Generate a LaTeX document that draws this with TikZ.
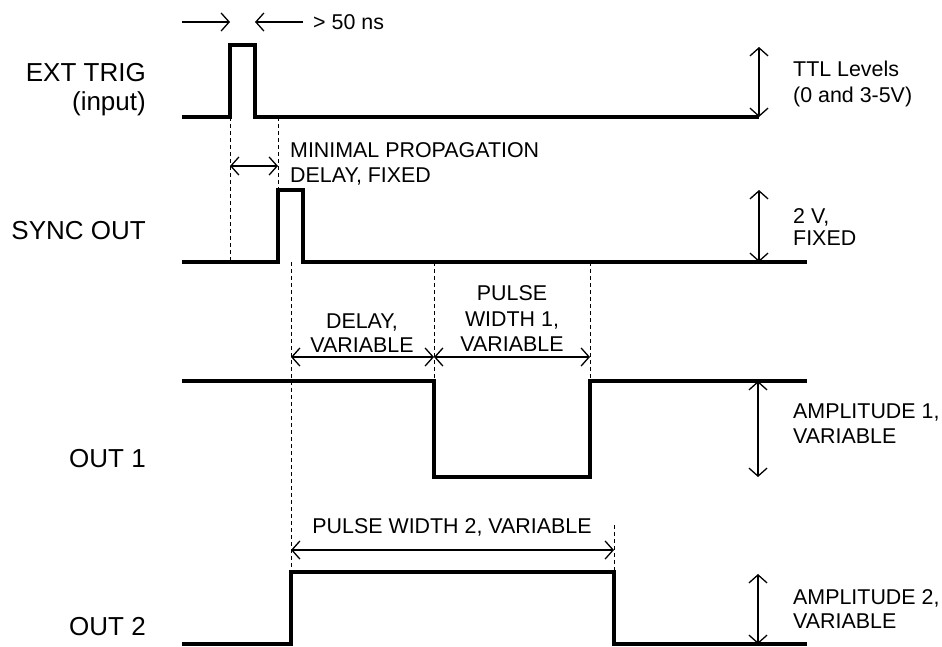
\documentclass[tikz,border=0pt]{standalone}
\usepackage{fontspec}
\setmainfont{Liberation Sans}
\usetikzlibrary{arrows.meta}
\begin{document}
\begin{tikzpicture}[x=1pt,y=-1pt,
  sig/.style={line width=3.5pt, line join=miter, line cap=butt},
  tipb/.tip={Straight Barb[length=8pt,width=18pt,line width=1.3pt]},
  dim/.style={line width=1.3pt, tipb-tipb},
  dimr/.style={line width=1.3pt, -tipb},
  guide/.style={line width=1pt, dash pattern=on 4pt off 3pt},
  lab/.style={font=\fontsize{26}{30}\selectfont, anchor=base east, inner sep=0pt},
  txt/.style={font=\fontsize{21.4}{24}\selectfont, inner sep=0pt},
  txtl/.style={txt, anchor=base west},
  txtc/.style={txt, anchor=base}]
\useasboundingbox (0,0) rectangle (942,646);

% key coordinates
\coordinate (e0) at (182,117);
\coordinate (eR) at (230,117); \coordinate (eRt) at (230,45);
\coordinate (eF) at (255,117); \coordinate (eFt) at (255,45);
\coordinate (eEnd) at (759,117);
\coordinate (s0) at (182,262);
\coordinate (sR) at (278,262); \coordinate (sRt) at (278,190);
\coordinate (sF) at (303,262); \coordinate (sFt) at (303,190);
\coordinate (sEnd) at (807,262);
\coordinate (o10) at (182,381);
\coordinate (o1F) at (434,381); \coordinate (o1Fb) at (434,477);
\coordinate (o1R) at (590,381); \coordinate (o1Rb) at (590,477);
\coordinate (o1End) at (807,381);
\coordinate (o20) at (182,644);
\coordinate (o2R) at (291,644); \coordinate (o2Rt) at (291,572);
\coordinate (o2F) at (614,644); \coordinate (o2Ft) at (614,572);
\coordinate (o2End) at (807,644);

% signals
\draw[sig] (e0) -- (eR) -- (eRt) -- (eFt) -- (eF) -- (eEnd);
\draw[sig] (s0) -- (sR) -- (sRt) -- (sFt) -- (sF) -- (sEnd);
\draw[sig] (o10) -- (o1F) -- (o1Fb) -- (o1Rb) -- (o1R) -- (o1End);
\draw[sig] (o20) -- (o2R) -- (o2Rt) -- (o2Ft) -- (o2F) -- (o2End);

% guide lines
\coordinate (g1a) at (230,117); \coordinate (g1b) at (230,262);
\coordinate (g2a) at (278,117); \coordinate (g2b) at (278,190);
\coordinate (g3a) at (291,262); \coordinate (g3b) at (291,572);
\coordinate (g4a) at (434,262); \coordinate (g4b) at (434,381);
\coordinate (g5a) at (590,262); \coordinate (g5b) at (590,381);
\coordinate (g6a) at (614,525); \coordinate (g6b) at (614,572);
\draw[guide] (g1a) -- (g1b);
\draw[guide] (g2a) -- (g2b);
\draw[guide] (g3a) -- (g3b);
\draw[guide] (g4a) -- (g4b);
\draw[guide] (g5a) -- (g5b);
\draw[guide] (g6a) -- (g6b);

% top width arrows
\coordinate (t1a) at (182,22); \coordinate (t1b) at (230,22);
\coordinate (t2a) at (303,22); \coordinate (t2b) at (255,22);
\draw[dimr] (t1a) -- (t1b);
\draw[dimr] (t2a) -- (t2b);
\node[txtl] (ns) at (313,29.5) {> 50 ns};

% propagation delay
\coordinate (p1) at (230,166); \coordinate (p2) at (278,166);
\draw[dim] (p1) -- (p2);
\node[txtl] (mp1) at (290,157.5) {MINIMAL PROPAGATION};
\node[txtl] (mp2) at (290,182) {DELAY, FIXED};

% delay and pulse width 1
\coordinate (d1) at (291,357); \coordinate (d2) at (434,357); \coordinate (d3) at (590,357);
\draw[dim] (d1) -- (d2);
\draw[dim] (d2) -- (d3);
\node[txtc] (dl1) at (362,328) {DELAY,};
\node[txtc] (dl2) at (362,352) {VARIABLE};
\node[txtc] (pw1a) at (512,300) {PULSE};
\node[txtc] (pw1b) at (512,326) {WIDTH 1,};
\node[txtc] (pw1c) at (512,351) {VARIABLE};

% pulse width 2
\coordinate (w1) at (291,550); \coordinate (w2) at (614,550);
\draw[dim] (w1) -- (w2);
\node[txtc] (pw2) at (452,533) {PULSE WIDTH 2, VARIABLE};

% amplitude arrows
\coordinate (a1t) at (759,47);  \coordinate (a1b) at (759,117);
\coordinate (a2t) at (759,190); \coordinate (a2b) at (759,262);
\coordinate (a3t) at (758,381); \coordinate (a3b) at (758,477);
\coordinate (a4t) at (758,574); \coordinate (a4b) at (758,644);
\draw[dim] (a1t) -- (a1b);
\draw[dim] (a2t) -- (a2b);
\draw[dim] (a3t) -- (a3b);
\draw[dim] (a4t) -- (a4b);
\node[txtl] (ttl1) at (793,76) {TTL Levels};
\node[txtl] (ttl2) at (793,102) {(0 and 3-5V)};
\node[txtl] (sv1) at (793,223) {2 V,};
\node[txtl] (sv2) at (793,245) {FIXED};
\node[txtl] (am1a) at (793,418) {AMPLITUDE 1,};
\node[txtl] (am1b) at (793,443) {VARIABLE};
\node[txtl] (am2a) at (793,604) {AMPLITUDE 2,};
\node[txtl] (am2b) at (793,628) {VARIABLE};

% signal names
\node[lab] (ext1) at (146,81) {EXT TRIG};
\node[lab] (ext2) at (146,110) {(input)};
\node[lab] (sync) at (146,239) {SYNC OUT};
\node[lab] (out1) at (146,467) {OUT 1};
\node[lab] (out2) at (146,635) {OUT 2};
\end{tikzpicture}
\end{document}
